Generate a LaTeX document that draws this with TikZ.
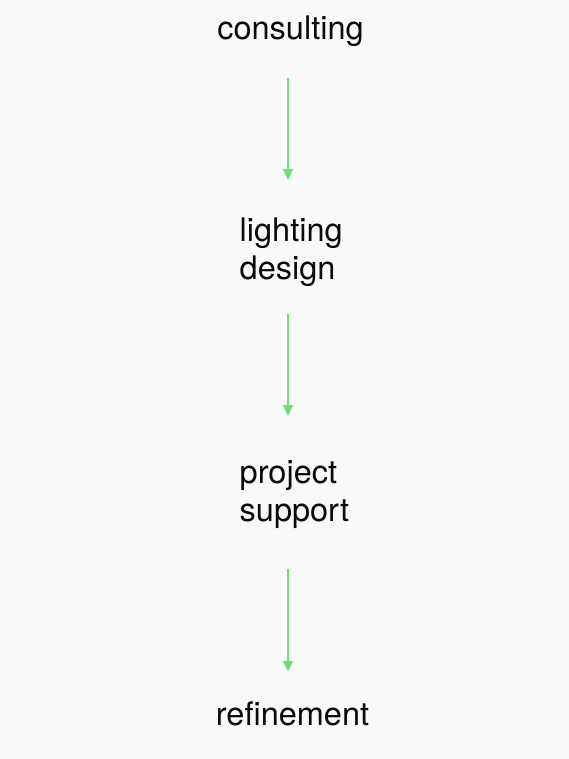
\documentclass[tikz,border=0pt]{standalone}
\usepackage{fontspec}
\setmainfont{TeX Gyre Heros}
\usetikzlibrary{arrows.meta}
\definecolor{bgc}{RGB}{249,249,249}
\definecolor{flowc}{RGB}{110,220,122}
\definecolor{txtc}{RGB}{10,10,10}
\tikzset{
  lbl/.style={inner sep=0pt, text=txtc, font=\fontsize{32.5}{38}\selectfont, text height=24pt, text depth=7pt},
  lbl2/.style={inner sep=0pt, text=txtc, font=\fontsize{32.5}{38}\selectfont, align=left, anchor=north west},
  flow/.style={draw=flowc, line width=1.5pt, -{Triangle[length=11pt,width=10pt]}}
}
\begin{document}
\begin{tikzpicture}[x=1pt,y=-1pt]
\fill[bgc] (0,0) rectangle (569,759);
\useasboundingbox (0,0) rectangle (569,759);
\coordinate (ax) at (288,0);
\node[lbl, anchor=base] (c1) at (290.5,40) {consulting};
\node[lbl2] (c2) at (239.5,217) {\rule{0pt}{24pt}lighting\\design\rule[-7pt]{0pt}{7pt}};
\node[lbl2] (c3) at (239.5,459) {\rule{0pt}{24pt}project\\support\rule[-7pt]{0pt}{7pt}};
\node[lbl, anchor=base] (c4) at (292.5,725) {refinement};
\draw[flow, shorten <=31pt, shorten >=37pt] (c1.south -| ax) -- (c2.north -| ax);
\draw[flow, shorten <=28pt, shorten >=43pt] (c2.south -| ax) -- (c3.north -| ax);
\draw[flow, shorten <=41pt, shorten >=29pt] (c3.south -| ax) -- (c4.north -| ax);
\end{tikzpicture}
\end{document}
